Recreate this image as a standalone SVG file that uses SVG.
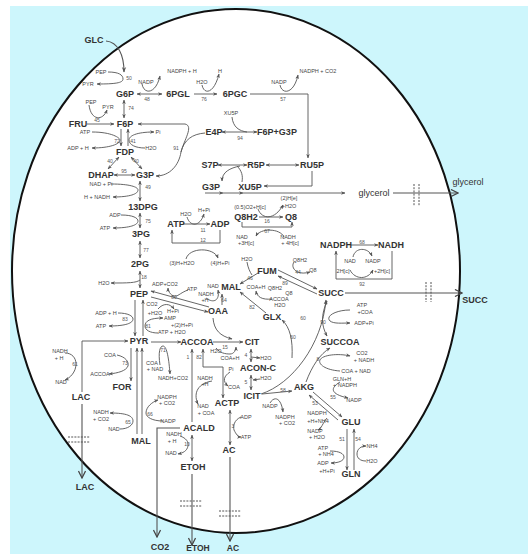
<svg xmlns="http://www.w3.org/2000/svg" width="528" height="554" viewBox="0 0 528 554">
<defs>
<style>
.m{font-family:"Liberation Sans",Arial,sans-serif;font-weight:bold;font-size:9px;fill:#333;text-anchor:middle}
.s{font-family:"Liberation Sans",Arial,sans-serif;font-size:5.5px;fill:#444;text-anchor:middle}
.n{font-family:"Liberation Sans",Arial,sans-serif;font-size:5px;fill:#555;text-anchor:middle}
.e{fill:none;stroke:#555;stroke-width:0.9}
.x{fill:none;stroke:#555;stroke-width:1.1}
.d{fill:none;stroke:#555;stroke-width:1;stroke-dasharray:2 1.2}
</style>
<marker id="a" viewBox="0 0 10 10" refX="9" refY="5" markerWidth="5" markerHeight="5" orient="auto-start-reverse"><path d="M0,1 L10,5 L0,9 L3,5z" fill="#555"/></marker>
<marker id="b" viewBox="0 0 10 10" refX="9" refY="5" markerWidth="8" markerHeight="8" orient="auto"><path d="M1,1 L9,5 L1,9" fill="none" stroke="#444" stroke-width="1.4"/></marker>
</defs>
<rect x="0" y="0" width="528" height="554" fill="#fff"/>
<rect x="10" y="6" width="518" height="548" fill="#cdf6fc"/>
<ellipse cx="236" cy="271" rx="224" ry="262" fill="#fff" stroke="#111" stroke-width="2"/>

<g id="connectors">
<path class="x" d="M106,41 C118,42 124,55 124,72" marker-end="url(#a)" stroke="#333"/>
<path class="e" d="M108,72 C119,72 123,75 123,79 C123,83 115,84 97,84" marker-end="url(#a)"/>
<path class="e" d="M137,94 L162,94" marker-start="url(#a)" marker-end="url(#a)"/>
<path class="e" d="M142,84 C144,95 156,94 160,76" marker-end="url(#a)"/>
<path class="e" d="M194,94 L217,94" marker-end="url(#a)"/>
<path class="e" d="M202,85 C204,95 214,94 219,74" marker-end="url(#a)"/>
<path class="e" d="M250,94 L308,94 L308,158" marker-end="url(#a)"/>
<path class="e" d="M280,85 C282,95 294,94 298,75" marker-end="url(#a)"/>
<path class="e" d="M124,100 L124,118" marker-start="url(#a)" marker-end="url(#a)"/>
<path class="e" d="M87,124 L114,124" marker-end="url(#a)"/>
<path class="e" d="M89,105 C91,121 103,121 107,110" marker-end="url(#a)"/>
<path class="e" d="M121,129 L121,146" marker-end="url(#a)"/>
<path class="e" d="M128,146 L128,129" marker-end="url(#a)"/>
<path class="e" d="M92,132 C112,132 120,138 120,140 C120,144 110,148 92,148" marker-end="url(#a)"/>
<path class="e" d="M145,148 C136,148 129,145 129,140 C129,136 136,132 154,132" marker-end="url(#a)"/>
<path class="e" d="M119,157 L108,169" marker-start="url(#a)" marker-end="url(#a)"/>
<path class="e" d="M131,157 L142,169" marker-start="url(#a)" marker-end="url(#a)"/>
<path class="e" d="M114,175 L135,175" marker-start="url(#a)" marker-end="url(#a)"/>
<path class="e" d="M185,124 L138,124" marker-end="url(#a)"/>
<path class="e" d="M185,124 C194,126 184,140 181,152 C179,165 170,176 156,176" marker-end="url(#a)"/>
<path class="e" d="M205,133 C192,134 184,140 181,152"/>
<path class="e" d="M140,181 L140,201" marker-start="url(#a)" marker-end="url(#a)"/>
<path class="e" d="M111,184 C130,184 138,187 138,190 C138,194 130,197 113,197" marker-end="url(#a)"/>
<path class="e" d="M140,213 L140,228" marker-start="url(#a)" marker-end="url(#a)"/>
<path class="e" d="M121,215 C133,215 138,218 138,221 C138,225 130,228 113,228" marker-end="url(#a)"/>
<path class="e" d="M140,241 L140,258" marker-start="url(#a)" marker-end="url(#a)"/>
<path class="e" d="M140,271 L140,288" marker-start="url(#a)" marker-end="url(#a)"/>
<path class="e" d="M140,280 C136,283 128,283 111,283" marker-end="url(#a)"/>
<path class="e" d="M135,300 L135,336" marker-end="url(#a)"/>
<path class="e" d="M143,336 L143,300" marker-end="url(#a)"/>
<path class="e" d="M118,313 C128,313 133,316 133,319 C133,323 126,326 109,326" marker-end="url(#a)"/>
<path class="e" d="M158,333 C150,333 145,330 145,326 C145,321 150,318 163,318" marker-end="url(#a)"/>
<path class="e" d="M209,307 L151,291" marker-end="url(#a)"/>
<path class="e" d="M151,297 L208,312" marker-end="url(#a)"/>
<path class="e" d="M188,290 C182,292 178,296 176,296 C172,297 168,292 168,288" marker-end="url(#a)"/>
<path class="e" d="M158,309 C163,303 170,303 174,309" marker-end="url(#a)"/>
<path class="e" d="M151,342 L181,342" marker-end="url(#a)"/>
<path class="e" d="M160,365 C158,352 160,346 163,346 C167,346 169,360 170,374" marker-end="url(#a)"/>
<path class="e" d="M131,348 L131,381" marker-end="url(#a)"/>
<path class="e" d="M117,355 C126,357 129,362 128,366 C126,371 118,373 109,374" marker-end="url(#a)"/>
<path class="e" d="M82,392 L82,341 L128,341" marker-end="url(#a)"/>
<path class="e" d="M65,353 C72,353 76,358 76,364 C76,372 70,378 65,380" marker-end="url(#a)"/>
<path class="x" d="M82,404 L82,478" marker-end="url(#b)"/>
<path class="e" d="M137,434 L137,348" marker-end="url(#a)"/>
<path class="e" d="M142,434 L142,348" marker-end="url(#a)"/>
<path class="e" d="M120,429 C128,429 133,425 133,421 C133,416 127,413 110,413" marker-end="url(#a)"/>
<path class="e" d="M163,421 C152,421 146,417 146,413 C146,407 152,402 158,400" marker-end="url(#a)"/>
<path class="x" d="M180,428 L157,428 L157,537" marker-end="url(#b)"/>
<path class="e" d="M213,342 L243,342" marker-end="url(#a)"/>
<path class="e" d="M216,348 C220,353 225,354 230,354 C234,354 236,350 236,347" marker-end="url(#a)"/>
<path class="e" d="M213,318 C214,330 220,336 232,339" marker-end="url(#a)"/>
<path class="e" d="M192,422 L192,349" marker-end="url(#a)"/>
<path class="e" d="M203,349 L203,367 L223,367 L223,398" marker-start="url(#a)" marker-end="url(#a)"/>
<path class="e" d="M212,381 C195,384 194,396 198,404" marker-end="url(#a)"/>
<path class="e" d="M230,372 C224,376 222,381 228,386" marker-end="url(#a)"/>
<path class="e" d="M230,410 L230,445" marker-start="url(#a)" marker-end="url(#a)"/>
<path class="e" d="M241,417 C234,420 233,426 234,430 C236,434 238,437 241,437" marker-end="url(#a)"/>
<path class="e" d="M192,435 L192,461" marker-start="url(#a)" marker-end="url(#a)"/>
<path class="e" d="M180,436 C186,438 189,442 188,446 C187,451 183,453 178,454" marker-end="url(#a)"/>
<path class="x" d="M192,474 L192,545" marker-end="url(#b)"/>
<path class="x" d="M230,457 L230,541" marker-end="url(#b)"/>
<path class="e" d="M222,305 L222,294" marker-end="url(#a)"/>
<path class="e" d="M206,298 C214,304 220,300 218,290" marker-end="url(#a)"/>
<path class="e" d="M258,273 L240,284" marker-end="url(#a)"/>
<path class="e" d="M247,262 C248,268 250,272 252,275"/>
<path class="e" d="M278,270 L317,289" marker-end="url(#a)"/>
<path class="e" d="M317,294 L278,276" marker-end="url(#a)"/>
<path class="e" d="M294,262 C290,268 297,276 310,272" marker-end="url(#a)"/>
<path class="e" d="M266,313 L240,292" marker-end="url(#a)"/>
<path class="e" d="M272,299 C262,300 257,297 256,291" marker-end="url(#a)"/>
<path class="e" d="M261,394 C292,384 322,345 326,300" marker-end="url(#a)"/>
<path class="e" d="M292,358 C293,340 290,327 282,320" marker-end="url(#a)"/>
<path class="e" d="M251,349 L251,362" marker-start="url(#a)" marker-end="url(#a)"/>
<path class="e" d="M251,357 L260,358" marker-end="url(#a)"/>
<path class="e" d="M251,375 L251,390" marker-start="url(#a)" marker-end="url(#a)"/>
<path class="e" d="M260,379 L253,380" marker-end="url(#a)"/>
<path class="e" d="M262,394 L292,391" marker-end="url(#a)"/>
<path class="e" d="M270,403 C274,396 281,397 283,412" marker-end="url(#a)"/>
<path class="e" d="M306,382 C312,366 320,354 330,348" marker-end="url(#a)"/>
<path class="e" d="M340,371 C325,370 318,364 320,360 C322,355 338,353 350,356" marker-end="url(#a)"/>
<path class="e" d="M327,301 C321,315 321,325 327,336" marker-start="url(#a)" marker-end="url(#a)"/>
<path class="e" d="M350,310 C336,310 325,316 330,321 C334,324 342,323 350,323" marker-end="url(#a)"/>
<path class="e" d="M313,392 L342,417" marker-end="url(#a)"/>
<path class="e" d="M338,420 L309,395" marker-end="url(#a)"/>
<path class="e" d="M340,382 C330,388 330,394 348,398" marker-end="url(#a)"/>
<path class="e" d="M327,418 C322,424 322,428 318,430" marker-end="url(#a)"/>
<path class="e" d="M347,429 L347,470" marker-end="url(#a)"/>
<path class="e" d="M354,470 L354,429" marker-end="url(#a)"/>
<path class="e" d="M330,451 C340,451 344,454 344,457 C344,461 338,463 331,463" marker-end="url(#a)"/>
<path class="e" d="M366,461 C360,461 357,458 357,454 C357,449 361,446 366,446" marker-end="url(#a)"/>
<path class="e" d="M222,132 L257,132" marker-start="url(#a)" marker-end="url(#a)"/>
<path class="e" d="M232,117 C233,127 239,131 247,132"/>
<path class="e" d="M218,165 L247,165" marker-start="url(#a)" marker-end="url(#a)"/>
<path class="e" d="M266,165 L299,165" marker-start="url(#a)" marker-end="url(#a)"/>
<path class="e" d="M240,166 C230,168 222,172 222,181" marker-end="url(#a)"/>
<path class="e" d="M242,182 C243,176 242,171 237,166"/>
<path class="e" d="M312,171 L312,186 L264,186" marker-end="url(#a)"/>
<path class="e" d="M205,193 L223,193 L243,193 L345,193" marker-mid="url(#a)" marker-end="url(#a)"/>
<path class="x" d="M393,193 L458,193" marker-end="url(#b)"/>
<path class="d" d="M414,184 L414,206 M419,184 L419,206"/>
<path class="x" d="M345,293 L462,293" marker-end="url(#b)"/>
<path class="d" d="M426,282 L426,302 M431,282 L431,302"/>
<path class="d" d="M68,437 L90,437 M68,442 L90,442"/>
<path class="d" d="M180,501 L202,501 M180,506 L202,506"/>
<path class="d" d="M219,511 L241,511 M219,516 L241,516"/>
<path class="e" d="M183,224 L210,224" marker-end="url(#a)"/>
<path class="e" d="M187,217 C190,227 200,227 204,214" marker-end="url(#a)"/>
<path class="e" d="M220,230 L220,243 L172,243 L172,230" marker-end="url(#a)"/>
<path class="e" d="M186,259 C189,247 214,247 218,258" marker-end="url(#a)"/>
<path class="e" d="M259,217 L283,217" marker-end="url(#a)"/>
<path class="e" d="M258,209 C262,220 275,220 283,205" marker-end="url(#a)"/>
<path class="e" d="M242,222 L242,227 L292,227 L292,222" marker-end="url(#a)"/>
<path class="e" d="M284,237 C280,228 260,228 256,236" marker-end="url(#a)"/>
<path class="e" d="M351,245 L378,245" marker-end="url(#a)"/>
<path class="e" d="M353,257 C355,247 368,247 372,256" marker-end="url(#a)"/>
<path class="e" d="M392,251 L392,279 L336,279 L336,251" marker-end="url(#a)"/>
<path class="e" d="M350,270 C355,280 368,280 373,270" marker-end="url(#a)"/>
</g>

<g id="node-GLC"><text class="m" x="94" y="43">GLC</text></g>
<g id="node-G6P"><text class="m" x="125" y="97">G6P</text></g>
<g id="node-6PGL"><text class="m" x="178" y="97">6PGL</text></g>
<g id="node-6PGC"><text class="m" x="235" y="97">6PGC</text></g>
<g id="node-FRU"><text class="m" x="78" y="127">FRU</text></g>
<g id="node-F6P"><text class="m" x="125" y="127">F6P</text></g>
<g id="node-E4P"><text class="m" x="214" y="135">E4P</text></g>
<g id="node-F6PG3P"><text class="m" x="277" y="135">F6P+G3P</text></g>
<g id="node-FDP"><text class="m" x="125" y="155">FDP</text></g>
<g id="node-DHAP"><text class="m" x="101" y="178">DHAP</text></g>
<g id="node-G3P"><text class="m" x="145" y="178">G3P</text></g>
<g id="node-S7P"><text class="m" x="210" y="168">S7P</text></g>
<g id="node-R5P"><text class="m" x="256" y="168">R5P</text></g>
<g id="node-RU5P"><text class="m" x="312" y="168">RU5P</text></g>
<g id="node-G3P-2"><text class="m" x="211" y="190">G3P</text></g>
<g id="node-XU5P"><text class="m" x="250" y="190">XU5P</text></g>
<g id="node-glycerol"><text class="m" x="374" y="196" style="font-weight:normal">glycerol</text></g>
<g id="node-glycerol-ext"><text class="m" x="468" y="185" style="font-weight:normal">glycerol</text></g>
<g id="node-13DPG"><text class="m" x="143" y="210">13DPG</text></g>
<g id="node-3PG"><text class="m" x="141" y="237">3PG</text></g>
<g id="node-2PG"><text class="m" x="140" y="267">2PG</text></g>
<g id="node-ATP"><text class="m" x="176" y="227">ATP</text></g>
<g id="node-ADP"><text class="m" x="220" y="227">ADP</text></g>
<g id="node-Q8H2"><text class="m" x="246" y="220">Q8H2</text></g>
<g id="node-Q8"><text class="m" x="291" y="220">Q8</text></g>
<g id="node-NADPH"><text class="m" x="336" y="248">NADPH</text></g>
<g id="node-NADH"><text class="m" x="391" y="248">NADH</text></g>
<g id="node-FUM"><text class="m" x="267" y="274">FUM</text></g>
<g id="node-MAL"><text class="m" x="231" y="290">MAL</text></g>
<g id="node-SUCC"><text class="m" x="331" y="296">SUCC</text></g>
<g id="node-SUCC-ext"><text class="m" x="475" y="303">SUCC</text></g>
<g id="node-PEP"><text class="m" x="139" y="297">PEP</text></g>
<g id="node-OAA"><text class="m" x="218" y="314">OAA</text></g>
<g id="node-GLX"><text class="m" x="272" y="320">GLX</text></g>
<g id="node-PYR"><text class="m" x="139" y="344">PYR</text></g>
<g id="node-ACCOA"><text class="m" x="197" y="345">ACCOA</text></g>
<g id="node-CIT"><text class="m" x="252" y="345">CIT</text></g>
<g id="node-SUCCOA"><text class="m" x="340" y="345">SUCCOA</text></g>
<g id="node-ACON-C"><text class="m" x="258" y="371">ACON-C</text></g>
<g id="node-AKG"><text class="m" x="304" y="390">AKG</text></g>
<g id="node-ICIT"><text class="m" x="252" y="399">ICIT</text></g>
<g id="node-LAC"><text class="m" x="81" y="400">LAC</text></g>
<g id="node-FOR"><text class="m" x="122" y="390">FOR</text></g>
<g id="node-ACTP"><text class="m" x="227" y="406">ACTP</text></g>
<g id="node-GLU"><text class="m" x="351" y="425">GLU</text></g>
<g id="node-ACALD"><text class="m" x="199" y="431">ACALD</text></g>
<g id="node-MAL-2"><text class="m" x="141" y="444">MAL</text></g>
<g id="node-AC"><text class="m" x="229" y="453">AC</text></g>
<g id="node-ETOH"><text class="m" x="193" y="470">ETOH</text></g>
<g id="node-GLN"><text class="m" x="351" y="477">GLN</text></g>
<g id="node-LAC-ext"><text class="m" x="85" y="490">LAC</text></g>
<g id="node-CO2-ext"><text class="m" x="160" y="550">CO2</text></g>
<g id="node-ETOH-ext"><text class="m" x="198" y="551" style="font-size:8.5px">ETOH</text></g>
<g id="node-AC-ext"><text class="m" x="233" y="551" style="font-size:8.5px">AC</text></g>

<g id="labels">
<text class="s" x="101" y="74">PEP</text><text class="s" x="88" y="86">PYR</text><text class="n" x="129" y="80">50</text>
<text class="s" x="146" y="84">NADP</text><text class="s" x="182" y="73">NADPH + H</text><text class="n" x="147" y="101">48</text>
<text class="s" x="202" y="84">H2O</text><text class="s" x="220" y="73">H</text><text class="n" x="204" y="101">76</text>
<text class="s" x="279" y="84">NADP</text><text class="s" x="318" y="73">NADPH + CO2</text><text class="n" x="283" y="101">57</text>
<text class="s" x="231" y="115">XU5P</text><text class="n" x="240" y="140">94</text>
<text class="s" x="91" y="104">PEP</text><text class="s" x="108" y="109">PYR</text><text class="n" x="97" y="122">45</text><text class="n" x="131" y="110">74</text>
<text class="s" x="85" y="134">ATP</text><text class="s" x="78" y="150">ADP + H</text><text class="n" x="117" y="143">72</text><text class="n" x="133" y="143">41</text>
<text class="s" x="158" y="134">Pi</text><text class="s" x="151" y="150">H2O</text>
<text class="n" x="176" y="150">91</text>
<text class="n" x="110" y="163">40</text><text class="n" x="136" y="163">40</text><text class="n" x="124" y="173">95</text>
<text class="s" x="101" y="186">NAD + Pi</text><text class="s" x="97" y="199">H + NADH</text><text class="n" x="148" y="189">49</text>
<text class="s" x="115" y="217">ADP</text><text class="s" x="105" y="230">ATP</text><text class="n" x="148" y="223">75</text>
<text class="n" x="146" y="252">77</text>
<text class="n" x="144" y="279">18</text><text class="s" x="104" y="285">H2O</text>
<text class="s" x="165" y="286">ADP+CO2</text><text class="n" x="174" y="299">80</text><text class="s" x="192" y="291">ATP</text>
<text class="s" x="152" y="306">CO2</text><text class="s" x="155" y="315">+H2O</text><text class="s" x="173" y="313">H+Pi</text>
<text class="s" x="106" y="315">ADP + H</text><text class="n" x="125" y="321">83</text><text class="s" x="101" y="328">ATP</text>
<text class="n" x="148" y="328">81</text><text class="s" x="170" y="320">AMP</text><text class="s" x="182" y="327">+(2)H+Pi</text><text class="s" x="172" y="334">ATP + H2O</text>
<text class="s" x="60" y="353">NADH</text><text class="s" x="59" y="360">+ H</text><text class="n" x="75" y="366">61</text><text class="s" x="61" y="384">NAD</text>
<text class="s" x="110" y="357">COA</text><text class="n" x="125" y="365">73</text><text class="s" x="100" y="376">ACCOA</text>
<text class="n" x="163" y="352">71</text><text class="s" x="152" y="365">COA</text><text class="s" x="155" y="371">+ NAD</text><text class="s" x="173" y="380">NADH+CO2</text>
<text class="s" x="167" y="399">NADPH</text><text class="s" x="167" y="405">+ CO2</text><text class="n" x="150" y="416">66</text><text class="s" x="168" y="423">NADP</text>
<text class="s" x="101" y="414">NADH</text><text class="s" x="101" y="421">+ CO2</text><text class="n" x="128" y="424">65</text><text class="s" x="114" y="431">NAD</text>
<text class="s" x="174" y="436">NADH</text><text class="s" x="172" y="443">+ H</text><text class="n" x="187" y="446">10</text><text class="s" x="171" y="455">NAD</text>
<text class="s" x="216" y="353">H2O</text><text class="s" x="230" y="360">COA+H</text><text class="n" x="225" y="349">15</text>
<text class="n" x="188" y="359">1</text><text class="n" x="199" y="359">82</text>
<text class="s" x="205" y="380">NADH</text><text class="s" x="205" y="386">+H</text><text class="s" x="203" y="408">NAD</text><text class="s" x="206" y="415">+ COA</text>
<text class="s" x="231" y="371">Pi</text><text class="s" x="234" y="389">COA</text>
<text class="n" x="246" y="357">4</text><text class="n" x="246" y="384">5</text>
<text class="s" x="266" y="360">H2O</text><text class="s" x="266" y="380">H2O</text>
<text class="n" x="283" y="392">58</text><text class="s" x="270" y="408">NADP</text><text class="s" x="285" y="419">NADPH</text><text class="s" x="287" y="425">+ CO2</text>
<text class="s" x="246" y="419">ADP</text><text class="n" x="233" y="428">3</text><text class="s" x="246" y="439">ATP</text>
<text class="s" x="317" y="415">NADPH</text><text class="s" x="318" y="423">+H+NH4</text><text class="s" x="315" y="433">NADP</text><text class="s" x="317" y="439">+ H2O</text>
<text class="n" x="315" y="405">53</text><text class="n" x="333" y="399">55</text>
<text class="s" x="342" y="381">GLN+H</text><text class="s" x="345" y="387">+ NADPH</text><text class="s" x="354" y="402">NADP</text>
<text class="n" x="342" y="441">51</text><text class="n" x="358" y="441">54</text>
<text class="s" x="323" y="450">ATP</text><text class="s" x="326" y="456">+ NH4</text><text class="s" x="323" y="465">ADP</text><text class="s" x="327" y="473">+H+Pi</text>
<text class="s" x="372" y="448">NH4</text><text class="s" x="372" y="463">H2O</text>
<text class="n" x="318" y="361">8</text><text class="s" x="356" y="373">COA + NAD</text><text class="s" x="362" y="355">CO2</text><text class="s" x="364" y="362">+ NADH</text>
<text class="n" x="323" y="324">90</text><text class="s" x="362" y="307">ATP</text><text class="s" x="365" y="314">+COA</text><text class="s" x="364" y="325">ADP+Pi</text>
<text class="n" x="303" y="320">60</text><text class="n" x="293" y="339">60</text>
<text class="s" x="279" y="301">ACCOA</text><text class="s" x="280" y="307">H2O</text><text class="s" x="256" y="289">COA+H</text><text class="n" x="252" y="309">82</text>
<text class="s" x="213" y="288">NAD</text><text class="s" x="206" y="296">NADH</text><text class="s" x="205" y="302">+H</text><text class="n" x="224" y="302">64</text>
<text class="s" x="247" y="261">H2O</text><text class="n" x="250" y="280">46</text>
<text class="s" x="300" y="262">Q8H2</text><text class="n" x="298" y="274">44</text><text class="s" x="313" y="272">Q8</text>
<text class="n" x="285" y="285">89</text><text class="s" x="275" y="290">Q8H2</text><text class="s" x="289" y="295">Q8</text>
<text class="s" x="186" y="216">H2O</text><text class="s" x="204" y="212">H+Pi</text><text class="n" x="203" y="232">11</text><text class="n" x="203" y="242">12</text>
<text class="s" x="182" y="265">(3)H+H2O</text><text class="s" x="220" y="265">(4)H+Pi</text>
<text class="s" x="250" y="209">(0.5)O2+H[c]</text><text class="s" x="289" y="200">(2)H[e]</text><text class="s" x="289" y="208">+H2O</text>
<text class="n" x="267" y="223">16</text><text class="n" x="267" y="233">67</text>
<text class="s" x="242" y="239">NAD</text><text class="s" x="246" y="245">+3H[c]</text><text class="s" x="288" y="239">NADH</text><text class="s" x="290" y="245">+ 4H[c]</text>
<text class="n" x="362" y="244">68</text><text class="s" x="350" y="263">NAD</text><text class="s" x="373" y="263">NADP</text>
<text class="s" x="343" y="273">2H[c]</text><text class="s" x="382" y="273">+2H[c]</text><text class="n" x="362" y="286">92</text>
</g>
</svg>
